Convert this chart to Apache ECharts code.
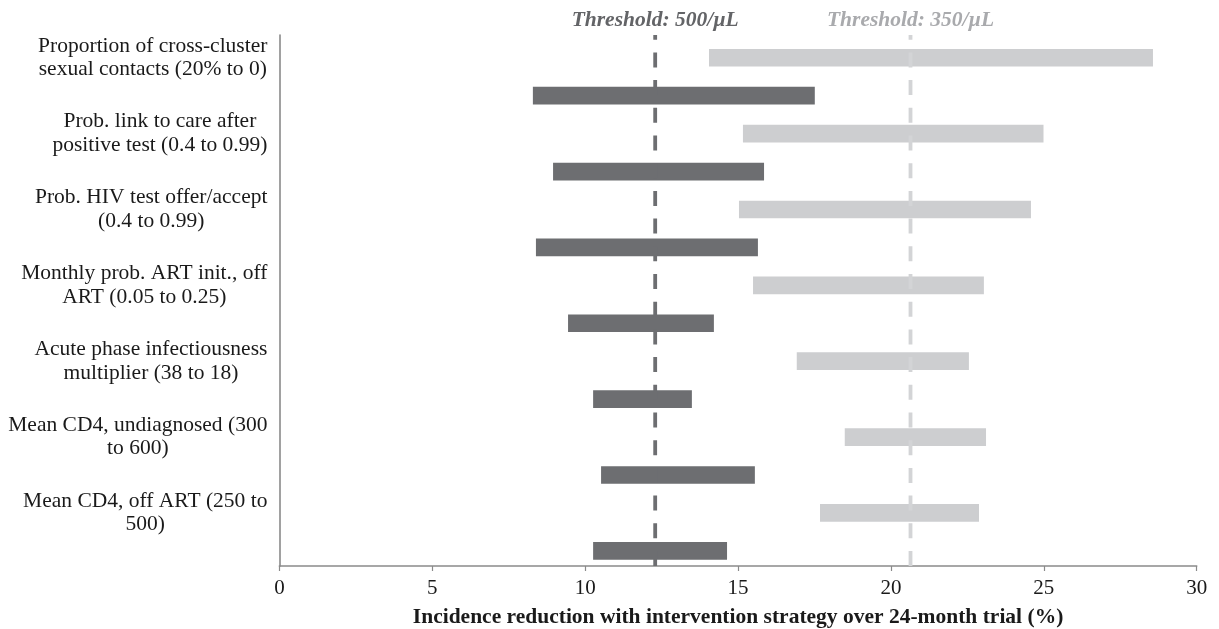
<!DOCTYPE html>
<html>
<head>
<meta charset="utf-8">
<script src="https://cdn.jsdelivr.net/npm/echarts@6/dist/echarts.min.js"></script>
<style>
  html, body { margin: 0; padding: 0; background: #ffffff; }
  #chart { width: 1219px; height: 629px; }
</style>
</head>
<body>
<div id="chart"></div>
<script>
// ---- Data ----
const categories = [
  ['Proportion of cross-cluster', 'sexual contacts (20% to 0)'],
  ['Prob. link to care after', 'positive test (0.4 to 0.99)'],
  ['Prob. HIV test offer/accept', '(0.4 to 0.99)'],
  ['Monthly prob. ART init., off', 'ART (0.05 to 0.25)'],
  ['Acute phase infectiousness', 'multiplier (38 to 18)'],
  ['Mean CD4, undiagnosed (300', 'to 600)'],
  ['Mean CD4, off ART (250 to', '500)']
];
// Threshold 350/µL (light bars)
const low350  = [14.05, 15.16, 15.03, 15.49, 16.92, 18.49, 17.68];
const high350 = [28.57, 24.99, 24.58, 23.04, 22.55, 23.11, 22.88];
// Threshold 500/µL (dark bars)
const low500  = [8.29, 8.95, 8.39, 9.44, 10.26, 10.52, 10.26];
const high500 = [17.51, 15.85, 15.65, 14.21, 13.49, 15.55, 14.64];
// Threshold reference lines
const thresholdNames  = ['Threshold: 500/\u00b5L', 'Threshold: 350/\u00b5L'];
const thresholdValues = [12.29, 20.64];
const xTicks = [0, 5, 10, 15, 20, 25, 30];
const xTitle = 'Incidence reduction with intervention strategy over 24-month trial (%)';

// ---- Styling ----
const FONT = '"Liberation Serif", "Times New Roman", serif';
const DARK = '#6d6e71';
const LIGHT = '#cdced0';
const AXIS = '#8a8a8a';
const Y_MAX = 14;

// row positions (layout only): light bar above, dark bar below
const lightPos = i => 2 * i + 0.6;
const darkPos = i => 2 * i + 1.6;

function barItem(params, api) {
  const y = api.value(0);
  const a = api.coord([api.value(1), y]);
  const b = api.coord([api.value(2), y]);
  const h = api.size([0, 1])[1] * 0.466;
  return {
    type: 'rect',
    shape: { x: a[0], y: a[1] - h / 2, width: b[0] - a[0], height: h },
    style: { fill: api.visual('color') }
  };
}

const light = low350.map((v, i) => [lightPos(i), v, high350[i]]);
const dark = low500.map((v, i) => [darkPos(i), v, high500[i]]);

const chart = echarts.init(document.getElementById('chart'), null, { renderer: 'canvas' });
chart.setOption({
  animation: false,
  backgroundColor: '#ffffff',
  grid: { left: 279.4, right: 22.3, top: 35, bottom: 63, containLabel: false, outerBoundsMode: 'none' },
  xAxis: {
    type: 'value', min: 0, max: 30, interval: 5, position: 'bottom',
    axisLine: { show: true, onZero: false, lineStyle: { color: AXIS, width: 1.6 } },
    axisTick: { show: true, length: 5, lineStyle: { color: AXIS, width: 1.2 } },
    splitLine: { show: false },
    axisLabel: {
      margin: 12, color: '#1a1a1a', fontFamily: FONT, fontSize: 21,
      formatter: v => (xTicks.indexOf(v) >= 0 ? String(v) : '')
    },
    name: xTitle, nameLocation: 'middle', nameGap: 40,
    nameTextStyle: { fontFamily: FONT, fontSize: 21.5, fontWeight: 'bold', color: '#1a1a1a' }
  },
  yAxis: {
    type: 'value', min: 0, max: Y_MAX, inverse: true,
    axisLine: { show: true, onZero: false, lineStyle: { color: AXIS, width: 1.6 } },
    axisTick: { show: false }, axisLabel: { show: false }, splitLine: { show: false }
  },
  series: [
    {
      name: '350', type: 'custom', renderItem: barItem,
      itemStyle: { color: LIGHT },
      encode: { x: [1, 2], y: 0 }, data: light, z: 2
    },
    {
      name: '500', type: 'custom', renderItem: barItem,
      itemStyle: { color: DARK },
      encode: { x: [1, 2], y: 0 }, data: dark, z: 2
    },
    {
      name: 'thresholds', type: 'custom', z: 5, silent: true,
      data: thresholdValues.map((v, i) => [v, i]),
      encode: { x: 0 },
      renderItem: function (params, api) {
        const x = api.value(0);
        const idx = api.value(1);
        const bottom = api.coord([x, Y_MAX]);
        const top = api.coord([x, 0]);
        const lineColor = idx === 0 ? DARK : '#d3d4d6';
        const textColor = idx === 0 ? '#636467' : '#a9aaad';
        return {
          type: 'group',
          children: [
            {
              type: 'line',
              shape: { x1: bottom[0], y1: bottom[1], x2: top[0], y2: top[1] },
              style: { stroke: lineColor, lineWidth: 3.8, lineDash: [15, 12.7], lineDashOffset: 0 }
            },
            {
              type: 'text',
              x: top[0], y: top[1] - 15,
              style: {
                text: thresholdNames[idx], align: 'center', verticalAlign: 'middle',
                font: 'italic bold 21.5px ' + FONT, fill: textColor
              }
            }
          ]
        };
      }
    },
    {
      name: 'labels', type: 'custom', z: 5, silent: true,
      data: categories.map((c, i) => [0, lightPos(i), i]),
      encode: { x: 0, y: 1 },
      renderItem: function (params, api) {
        const p = api.coord([0, api.value(1)]);
        const lines = categories[api.value(2)];
        return {
          type: 'text',
          x: p[0] - 12, y: p[1],
          style: {
            text: lines.map(l => '{c|' + l + '}').join('\n'),
            align: 'right', verticalAlign: 'middle',
            fontFamily: FONT, fontSize: 21.5, lineHeight: 23.6, fill: '#1a1a1a',
            rich: { c: { align: 'center', fontFamily: FONT, fontSize: 21.5, lineHeight: 23.6, fill: '#1a1a1a' } }
          }
        };
      }
    }
  ]
});
</script>
</body>
</html>
